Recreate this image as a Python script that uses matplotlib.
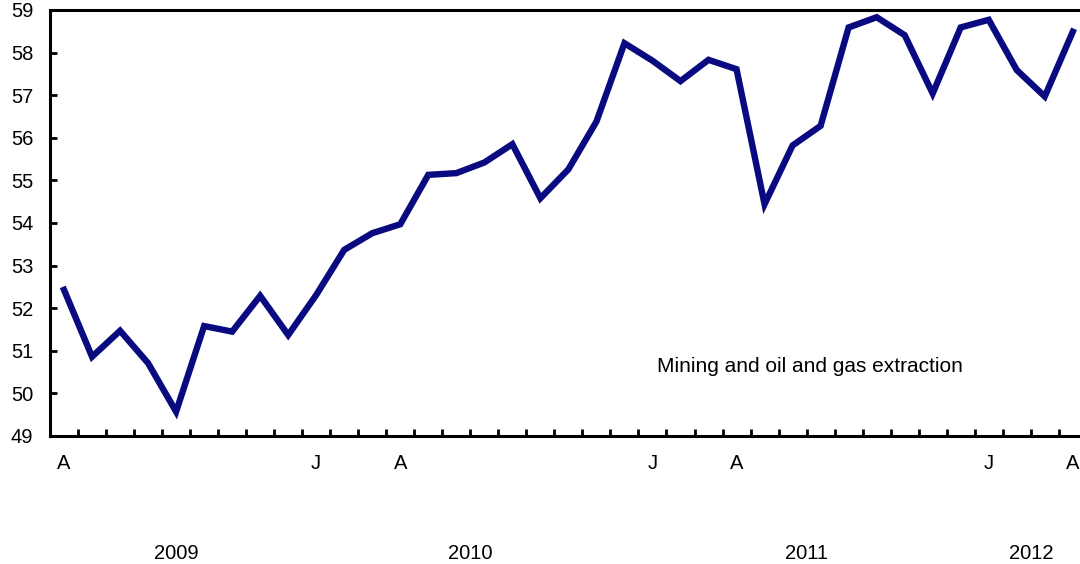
import matplotlib
matplotlib.use("Agg")
import matplotlib.pyplot as plt
import matplotlib.transforms as mtransforms
import numpy as np

# monthly series, April 2009 to April 2012
months = ["A", "M", "J", "J", "A", "S", "O", "N", "D",
          "J", "F", "M", "A", "M", "J", "J", "A", "S", "O", "N", "D",
          "J", "F", "M", "A", "M", "J", "J", "A", "S", "O", "N", "D",
          "J", "F", "M", "A"]
values = [52.43, 50.86, 51.47, 50.71, 49.57, 51.58, 51.45, 52.29, 51.37,
          52.31, 53.37, 53.76, 53.97, 55.13, 55.17, 55.42, 55.85, 54.58,
          55.26, 56.38, 58.22, 57.81, 57.33, 57.83, 57.61, 54.44, 55.82,
          56.28, 58.59, 58.83, 58.41, 57.04, 58.59, 58.77, 57.59, 56.97,
          58.49]
shown_months = [0, 9, 12, 21, 24, 33, 36]
years = ["2009", "2010", "2011", "2012"]
year_spans = [(0, 8), (9, 20), (21, 32), (33, 36)]
series_label = "Mining and oil and gas extraction"

plt.rcParams["font.family"] = ["Liberation Sans", "DejaVu Sans"]

fig = plt.figure(figsize=(10.8, 5.64), dpi=100)
ax = fig.add_axes([0.0463, 0.227, 0.960, 0.7553])

x = np.arange(len(values))
ax.plot(x, values, color="#0a0a80", lw=4.6, solid_joinstyle="miter")

ax.set_xlim(-0.5, len(values) - 0.5)
ax.set_ylim(49, 59)
ax.set_yticks(np.arange(49, 60, 1))

ax.set_xticks(shown_months)
ax.set_xticklabels([months[i] for i in shown_months])
ax.set_xticks(np.arange(0.5, len(values) - 1, 1), minor=True)

for s in ax.spines.values():
    s.set_linewidth(2.2)

ax.tick_params(axis="x", which="major", length=0, pad=13, labelsize=14.5)
ax.tick_params(axis="x", which="minor", direction="in", length=5, width=2)
ax.tick_params(axis="y", direction="in", length=5, width=2, pad=12, labelsize=14.5)

trans = mtransforms.blended_transform_factory(ax.transData, ax.transAxes)
for yr, (a, b) in zip(years, year_spans):
    ax.text((a + b) / 2, -0.275, yr, transform=trans, ha="center",
            va="center", fontsize=14.5)

ax.text(21.15, 50.64, series_label, fontsize=15, ha="left", va="center")

fig.savefig("out.png", dpi=100)
